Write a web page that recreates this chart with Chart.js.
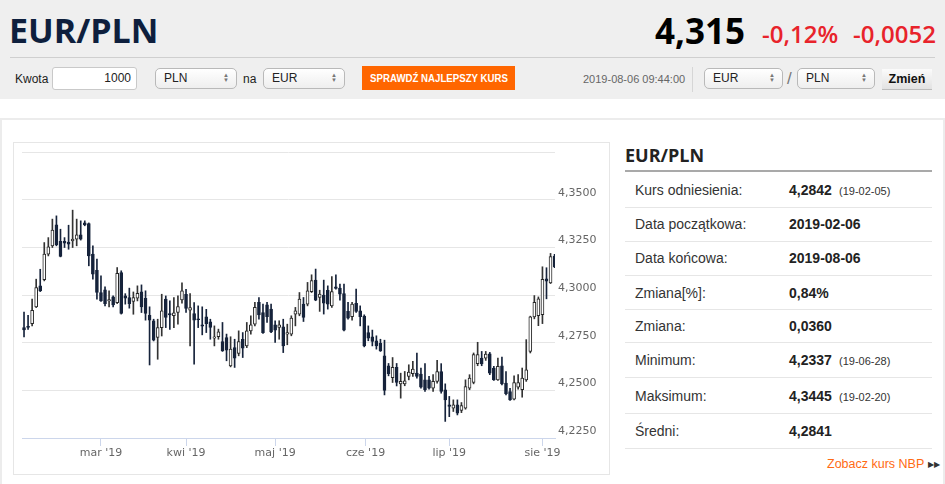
<!DOCTYPE html>
<html lang="pl">
<head>
<meta charset="utf-8">
<title>EUR/PLN</title>
<script src="https://cdn.jsdelivr.net/npm/chart.js@4/dist/chart.umd.min.js"></script>
<style>
  body { margin: 0; width: 945px; height: 484px; overflow: hidden; background: #fff;
         font-family: "Liberation Sans", Arial, sans-serif; color: #333; position: relative; }
  .a { position: absolute; white-space: nowrap; }
  #head { left: 0; top: 0; width: 945px; height: 99px; background: #efefef; }
  .big { font-family: "Open Sans", sans-serif; font-weight: 700; }
  .red { color: #e8232b; font-family: "Open Sans", sans-serif; font-weight: 600; font-size: 24px; line-height: 24px; top: 22px; }
  .lbl { font-size: 12px; line-height: 24px; top: 67px; color: #222; }
  .sel { top: 68px; height: 21px; box-sizing: border-box; border: 1px solid #b9b9b9; border-radius: 5px;
         background: linear-gradient(#ffffff, #eeeeee); font-size: 12px; line-height: 19px; padding-left: 8px; color: #222; }
  .sel .arr { position: absolute; right: 7px; top: 4px; font-size: 6px; line-height: 5px; color: #777; }
  .row { left: 635px; font-size: 14px; line-height: 24px; height: 24px; color: #333; }
  .val { left: 789px; font-size: 14px; line-height: 24px; font-weight: 700; color: #222; }
  .sm { left: 839px; font-size: 11px; line-height: 24px; color: #333; }
  .sep { left: 625px; width: 307px; height: 1px; background: #e6e6e6; }
</style>
</head>
<body>
<div id="head" class="a"></div>
<div class="a big" style="left:9px;top:13px;font-size:34px;line-height:34px;color:#0e1f3d;">EUR/PLN</div>
<div class="a big" style="right:200px;top:13px;font-size:35px;line-height:35px;color:#000;">4,315</div>
<div class="a red" style="left:762px;">-0,12%</div>
<div class="a red" style="left:853px;">-0,0052</div>
<div class="a" style="left:10px;top:57px;width:925px;height:1px;background:#cfcfcf;"></div>

<div class="a lbl" style="left:15px;">Kwota</div>
<div class="a" style="left:52px;top:67px;width:85px;height:23px;box-sizing:border-box;border:1px solid #c9c9c9;border-radius:3px;background:#fff;font-size:12px;line-height:21px;text-align:right;padding-right:5px;color:#222;">1000</div>
<div class="a sel" style="left:155px;width:82px;">PLN<span class="arr">▲<br>▼</span></div>
<div class="a lbl" style="left:243px;">na</div>
<div class="a sel" style="left:263px;width:82px;">EUR<span class="arr">▲<br>▼</span></div>
<div class="a" style="left:362px;top:66px;width:153px;height:24px;background:#ff6600;color:#fff;font-weight:700;font-size:11.5px;line-height:24px;display:flex;justify-content:center;overflow:hidden;">
  <span style="display:inline-block;transform:scaleX(0.84);transform-origin:center;">SPRAWDŹ NAJLEPSZY KURS</span></div>
<div class="a" style="left:583px;top:67px;font-size:11px;line-height:24px;color:#666;">2019-08-06 09:44:00</div>
<div class="a" style="left:692px;top:67px;width:1px;height:25px;background:#d6d6d6;"></div>
<div class="a sel" style="left:704px;width:79px;">EUR<span class="arr">▲<br>▼</span></div>
<div class="a" style="left:787px;top:66px;font-size:17px;line-height:26px;color:#777;">/</div>
<div class="a sel" style="left:797px;width:78px;">PLN<span class="arr">▲<br>▼</span></div>
<div class="a" style="left:882px;top:69px;width:50px;height:21px;box-sizing:border-box;border-bottom:1px solid #bcbcbc;background:linear-gradient(#fbfbfb,#e2e2e2);font-weight:700;font-size:12.5px;line-height:20px;text-align:center;color:#111;">Zmień</div>

<div class="a" style="left:0;top:118px;width:945px;height:366px;box-sizing:border-box;border:2px solid #ececec;border-bottom:none;"></div>
<div class="a" style="left:13px;top:142px;width:597px;height:333px;box-sizing:border-box;border:1px solid #e6e6e6;"></div>
<div class="a" style="left:13px;top:142px;width:597px;height:333px;">
  <canvas id="chart" width="597" height="333"></canvas>
</div>

<div class="a" style="left:625px;top:143px;font-family:'Open Sans',sans-serif;font-weight:700;font-size:18px;line-height:24px;color:#222;">EUR/PLN</div>
<div class="a" style="left:625px;top:170px;width:307px;height:2px;background:#a9a9a9;"></div>
<div id="table"></div>
<div class="a" style="left:827px;top:456px;font-size:12.5px;line-height:16px;color:#ff6a13;">Zobacz kurs NBP <span style="font-size:8px;color:#333;vertical-align:1px;">▶▶</span></div>

<script>
// trading days shown on the chart (weekdays)
const firstDay = '2019-02-04';
const lastDay = '2019-08-06';
const monthLabels = ["mar '19", "kwi '19", "maj '19", "cze '19", "lip '19", "sie '19"];
const monthStarts = ['2019-03-01', '2019-04-01', '2019-05-01', '2019-06-01', '2019-07-01', '2019-08-01'];

// EUR/PLN daily candles
const open = [
  4.2829,4.2834,4.2850,4.2937,4.3048,4.3081,4.3214,4.3258,4.3368,4.3281,4.3281,4.3277,
  4.3284,4.3293,4.3316,4.3379,4.3375,4.3214,4.3130,4.3013,4.3027,4.2969,4.2990,4.2960,
  4.3118,4.2995,4.2986,4.2966,4.2983,4.3016,4.2983,4.2894,4.2864,4.2777,4.2829,4.2978,
  4.2903,4.2892,4.2908,4.2974,4.3004,4.2920,4.2903,4.2875,4.2843,4.2885,4.2859,4.2774,
  4.2781,4.2756,4.2777,4.2628,4.2724,4.2693,4.2768,4.2733,4.2812,4.2847,4.2961,4.2908,
  4.2948,4.2926,4.2844,4.2830,4.2833,4.2795,4.2795,4.2899,4.2899,4.2952,4.2952,4.3018,
  4.3078,4.2987,4.2999,4.3025,4.2943,4.3043,4.3036,4.3008,4.2914,4.2886,4.2956,4.2917,
  4.2889,4.2803,4.2781,4.2760,4.2746,4.2681,4.2628,4.2567,4.2620,4.2534,4.2534,4.2573,
  4.2587,4.2590,4.2585,4.2555,4.2555,4.2511,4.2547,4.2599,4.2503,4.2424,4.2406,4.2424,
  4.2394,4.2406,4.2511,4.2541,4.2640,4.2669,4.2669,4.2692,4.2617,4.2555,4.2629,4.2538,
  4.2494,4.2454,4.2517,4.2503,4.2555,4.2704,4.2885,4.2892,4.2897,4.3085,4.3064,4.3204
];
const high = [
  4.2911,4.2894,4.2978,4.3083,4.3135,4.3275,4.3301,4.3398,4.3415,4.3345,4.3301,4.3366,
  4.3445,4.3398,4.3389,4.3389,4.3378,4.3258,4.3188,4.3100,4.3043,4.3022,4.2995,4.3144,
  4.3127,4.3007,4.3036,4.3016,4.3048,4.3053,4.3022,4.2938,4.2873,4.2873,4.3004,4.2995,
  4.2969,4.2987,4.2995,4.3064,4.3030,4.3008,4.2960,4.2943,4.2938,4.2925,4.2873,4.2838,
  4.2821,4.2856,4.2795,4.2781,4.2768,4.2812,4.2803,4.2856,4.2891,4.2961,4.2987,4.2952,
  4.2961,4.2952,4.2865,4.2865,4.2873,4.2847,4.2891,4.2935,4.3013,4.2987,4.3066,4.3106,
  4.3136,4.3025,4.3078,4.3048,4.3096,4.3106,4.3057,4.3057,4.2961,4.2961,4.3031,4.2943,
  4.2896,4.2838,4.2816,4.2786,4.2768,4.2763,4.2641,4.2672,4.2641,4.2590,4.2599,4.2634,
  4.2652,4.2696,4.2617,4.2640,4.2573,4.2582,4.2657,4.2640,4.2534,4.2468,4.2450,4.2450,
  4.2436,4.2555,4.2582,4.2696,4.2752,4.2704,4.2704,4.2699,4.2626,4.2669,4.2675,4.2599,
  4.2511,4.2576,4.2582,4.2617,4.2766,4.2889,4.2997,4.2990,4.3148,4.3143,4.3218,4.3213
];
const low = [
  4.2780,4.2820,4.2838,4.2934,4.3018,4.3074,4.3205,4.3249,4.3258,4.3200,4.3249,4.3240,
  4.3249,4.3258,4.3288,4.3363,4.3153,4.3083,4.2978,4.2966,4.2943,4.2938,4.2938,4.2955,
  4.2900,4.2952,4.2931,4.2899,4.2969,4.2908,4.2868,4.2633,4.2759,4.2663,4.2785,4.2829,
  4.2820,4.2829,4.2847,4.2957,4.2908,4.2733,4.2637,4.2829,4.2791,4.2803,4.2768,4.2733,
  4.2768,4.2704,4.2655,4.2623,4.2620,4.2681,4.2672,4.2724,4.2795,4.2838,4.2873,4.2798,
  4.2856,4.2803,4.2751,4.2768,4.2698,4.2739,4.2786,4.2838,4.2891,4.2861,4.2943,4.3013,
  4.2970,4.2914,4.2900,4.2926,4.2935,4.3031,4.2973,4.2812,4.2873,4.2868,4.2908,4.2838,
  4.2728,4.2760,4.2733,4.2716,4.2704,4.2476,4.2576,4.2541,4.2523,4.2459,4.2524,4.2555,
  4.2573,4.2564,4.2511,4.2494,4.2506,4.2494,4.2538,4.2485,4.2337,4.2362,4.2389,4.2371,
  4.2383,4.2401,4.2503,4.2534,4.2629,4.2629,4.2657,4.2582,4.2552,4.2552,4.2529,4.2476,
  4.2447,4.2450,4.2506,4.2464,4.2547,4.2696,4.2875,4.2839,4.2850,4.2980,4.3060,4.3143
];
const close = [
  4.2817,4.2830,4.2920,4.3039,4.3022,4.3214,4.3252,4.3340,4.3263,4.3202,4.3272,4.3267,
  4.3293,4.3316,4.3293,4.3368,4.3205,4.3109,4.3013,4.2969,4.2955,4.2976,4.2948,4.3113,
  4.2903,4.2983,4.2955,4.2986,4.3009,4.2937,4.2903,4.2868,4.2763,4.2829,4.2917,4.2882,
  4.2896,4.2906,4.2939,4.3022,4.2929,4.2934,4.2868,4.2870,4.2836,4.2850,4.2830,4.2781,
  4.2807,4.2707,4.2711,4.2716,4.2669,4.2756,4.2721,4.2812,4.2844,4.2935,4.2896,4.2803,
  4.2887,4.2807,4.2816,4.2844,4.2733,4.2803,4.2879,4.2917,4.2978,4.2882,4.3022,4.3075,
  4.2973,4.3005,4.2957,4.2952,4.3018,4.3034,4.3005,4.2816,4.2879,4.2952,4.2914,4.2886,
  4.2733,4.2773,4.2756,4.2733,4.2707,4.2500,4.2588,4.2620,4.2541,4.2547,4.2550,4.2596,
  4.2611,4.2573,4.2517,4.2503,4.2511,4.2547,4.2599,4.2494,4.2450,4.2415,4.2424,4.2380,
  4.2420,4.2520,4.2564,4.2687,4.2687,4.2638,4.2690,4.2590,4.2555,4.2626,4.2534,4.2482,
  4.2450,4.2541,4.2541,4.2564,4.2608,4.2885,4.2962,4.2980,4.3082,4.3073,4.3201,4.3148
];

// statistics table (text only)
const rows = [
  ['Kurs odniesienia:', '4,2842', '(19-02-05)'],
  ['Data początkowa:', '2019-02-06', ''],
  ['Data końcowa:', '2019-08-06', ''],
  ['Zmiana[%]:', '0,84%', ''],
  ['Zmiana:', '0,0360', ''],
  ['Minimum:', '4,2337', '(19-06-28)'],
  ['Maksimum:', '4,3445', '(19-02-20)'],
  ['Średni:', '4,2841', '']
];

const NAVY = '#16233b';
const DAY = 86400000;

// build list of weekdays
const days = [];
for (let t = Date.parse(firstDay); t <= Date.parse(lastDay); t += DAY) {
  const wd = new Date(t).getUTCDay();
  if (wd !== 0 && wd !== 6) days.push(t);
}

// ordinal position of a calendar date (interpolated between trading days)
function ordinalPos(dateStr) {
  const t = Date.parse(dateStr);
  for (let i = 1; i < days.length; i++) {
    if (days[i] >= t) {
      if (days[i] === t) return i;
      return i - 1 + (t - days[i - 1]) / (days[i] - days[i - 1]);
    }
  }
  return days.length - 1;
}
const monthPos = monthStarts.map(ordinalPos);

const isUp = i => close[i] >= open[i];

const ctx = document.getElementById('chart');
new Chart(ctx, {
  type: 'bar',
  data: {
    datasets: [
      {
        // candle bodies (first = drawn on top)
        data: days.map((d, i) => ({ x: i, y: [open[i], close[i]] })),
        barThickness: 3,
        minBarLength: 1,
        borderWidth: 1,
        borderSkipped: false,
        backgroundColor: c => isUp(c.dataIndex) ? '#ffffff' : NAVY,
        borderColor: c => isUp(c.dataIndex) ? '#262626' : NAVY,
        grouped: false
      },
      {
        // wicks
        data: days.map((d, i) => ({ x: i, y: [low[i], high[i]] })),
        barThickness: 1,
        borderWidth: 0,
        backgroundColor: c => isUp(c.dataIndex) ? '#333333' : NAVY,
        grouped: false
      }
    ]
  },
  options: {
    responsive: false,
    animation: false,
    events: [],
    layout: { padding: { left: 9, top: 10, right: 0, bottom: 0 } },
    plugins: { legend: { display: false }, tooltip: { enabled: false } },
    scales: {
      x: {
        type: 'linear',
        min: -0.5,
        max: 131.1,
        offset: false,
        grid: { offset: false, drawOnChartArea: false, tickLength: 8, color: '#ccd6eb' },
        border: { color: '#ccd6eb' },
        afterBuildTicks: s => { s.ticks = monthPos.map(v => ({ value: v })); },
        afterFit: s => { s.height = 37; },
        ticks: {
          autoSkip: false, maxRotation: 0, padding: 1,
          color: '#666', font: { family: 'DejaVu Sans', size: 11 },
          callback: (v, i) => monthLabels[i]
        }
      },
      y: {
        position: 'right',
        min: 4.225,
        max: 4.375,
        grid: { color: '#e6e6e6', drawTicks: false },
        border: { display: false },
        afterFit: s => { s.width = 55; },
        ticks: {
          stepSize: 0.025, padding: 3, labelOffset: -7,
          color: '#666', font: { family: 'DejaVu Sans', size: 11 },
          callback: v => v > 4.37 ? '' : v.toFixed(4).replace('.', ',')
        }
      }
    }
  }
});

// table rows
const centers = [190, 224, 258, 293, 326, 360, 396, 431];
const seps = [207, 241, 275, 309, 342, 377, 413, 448];
let html = '';
rows.forEach((r, i) => {
  const top = centers[i] - 12;
  html += `<div class="a row" style="top:${top}px">${r[0]}</div>`;
  html += `<div class="a val" style="top:${top}px">${r[1]}</div>`;
  if (r[2]) html += `<div class="a sm" style="top:${top + 1}px">${r[2]}</div>`;
  html += `<div class="a sep" style="top:${seps[i]}px"></div>`;
});
document.getElementById('table').innerHTML = html;
</script>
</body>
</html>
